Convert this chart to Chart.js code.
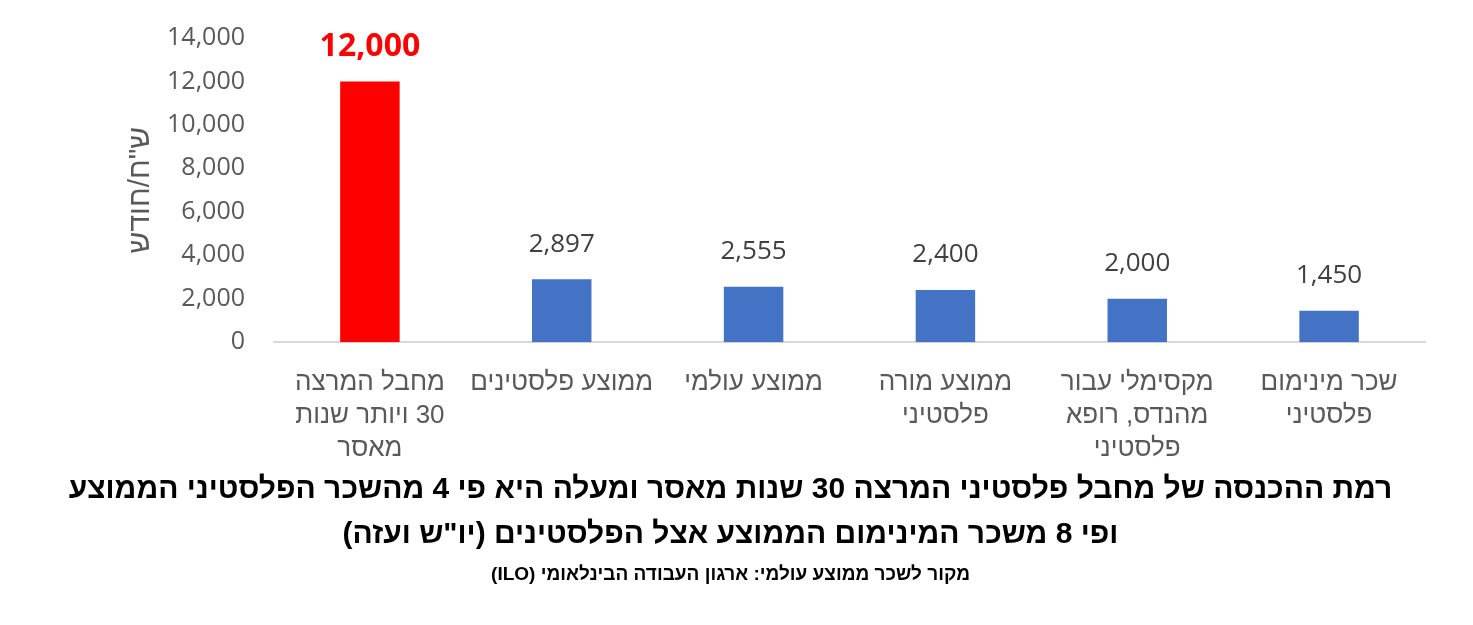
<!DOCTYPE html>
<html lang="he">
<head>
<meta charset="utf-8">
<script src="https://cdn.jsdelivr.net/npm/chart.js@4.4.1/dist/chart.umd.min.js"></script>
<style>
  html, body { margin: 0; padding: 0; background: #ffffff; }
  #wrap { position: relative; width: 1473px; height: 625px; }
</style>
</head>
<body>
<div id="wrap"><canvas id="c" dir="rtl"></canvas></div>
<script>
const categories = [
  ["מחבל המרצה", "30 ויותר שנות", "מאסר"],
  ["ממוצע פלסטינים"],
  ["ממוצע עולמי"],
  ["ממוצע מורה", "פלסטיני"],
  ["מקסימלי עבור", "מהנדס, רופא", "פלסטיני"],
  ["שכר מינימום", "פלסטיני"]
];
const values = [12000, 2897, 2555, 2400, 2000, 1450];
const barColors = ["#FF0000", "#4472C4", "#4472C4", "#4472C4", "#4472C4", "#4472C4"];
const yTitle = "ש\"ח/חודש";
const titleLines = [
  "רמת ההכנסה של מחבל פלסטיני המרצה 30 שנות מאסר ומעלה היא פי 4 מהשכר הפלסטיני הממוצע",
  "ופי 8 משכר המינימום הממוצע אצל הפלסטינים (יו\"ש ועזה)"
];
const sourceText = "מקור לשכר ממוצע עולמי: ארגון העבודה הבינלאומי (ILO)";
const yMin = 0, yMax = 14000, yStep = 2000;

const valueLabels = {
  id: 'valueLabels',
  afterDatasetsDraw(chart) {
    const ctx = chart.ctx;
    const meta = chart.getDatasetMeta(0);
    ctx.save();
    ctx.textAlign = 'center';
    ctx.textBaseline = 'middle';
    meta.data.forEach((bar, i) => {
      const txt = values[i].toLocaleString('en-US');
      if (i === 0) {
        ctx.font = "bold 32px 'Open Sans', 'Liberation Sans', sans-serif";
        ctx.fillStyle = '#FF0000';
      } else {
        ctx.font = "26px 'Open Sans', 'Liberation Sans', sans-serif";
        ctx.fillStyle = '#404040';
      }
      ctx.fillText(txt, bar.x, bar.y - 35);
    });
    ctx.restore();
  }
};

new Chart(document.getElementById('c'), {
  type: 'bar',
  data: {
    labels: categories,
    datasets: [{
      data: values,
      backgroundColor: barColors,
      borderWidth: 0,
      categoryPercentage: 1.0,
      barPercentage: 0.31
    }]
  },
  options: {
    responsive: true,
    maintainAspectRatio: false,
    animation: false,
    layout: { padding: { left: 36, right: 48, top: 38, bottom: 39 } },
    plugins: {
      legend: { display: false },
      tooltip: { enabled: false },
      title: {
        display: true,
        position: 'bottom',
        weight: 1000,
        text: titleLines,
        color: '#000000',
        font: { family: "'Liberation Sans', Arial, sans-serif", size: 30, weight: 'bold', lineHeight: 1.5 },
        padding: { top: 1, bottom: 7 }
      },
      subtitle: {
        display: true,
        position: 'bottom',
        weight: 1500,
        text: sourceText,
        color: '#000000',
        font: { family: "'Liberation Sans', Arial, sans-serif", size: 19, weight: 'bold', lineHeight: 1.15 },
        padding: { top: 0, bottom: 0 }
      }
    },
    scales: {
      x: {
        grid: { display: false, drawTicks: false },
        border: { display: true, color: '#D9D9D9', width: 2 },
        afterFit(scale) { scale.height = 124; },
        ticks: {
          color: '#595959',
          font: { family: "'Liberation Sans', Arial, sans-serif", size: 26, lineHeight: 1.27 },
          padding: 24,
          maxRotation: 0,
          autoSkip: false
        }
      },
      y: {
        min: yMin, max: yMax,
        grid: { display: false, drawTicks: false },
        border: { display: false },
        afterFit(scale) { scale.width = 238; scale.paddingTop = 0; scale.paddingBottom = 0; },
        ticks: {
          stepSize: yStep,
          color: '#595959',
          padding: 29,
          font: { family: "'Open Sans', 'Liberation Sans', sans-serif", size: 25 },
          callback: v => v.toLocaleString('en-US')
        },
        title: {
          display: true,
          text: yTitle,
          color: '#595959',
          font: { family: "'Liberation Sans', Arial, sans-serif", size: 30, lineHeight: 1.2 },
          padding: { top: 87, bottom: 0 }
        }
      }
    }
  },
  plugins: [valueLabels]
});
</script>
</body>
</html>
